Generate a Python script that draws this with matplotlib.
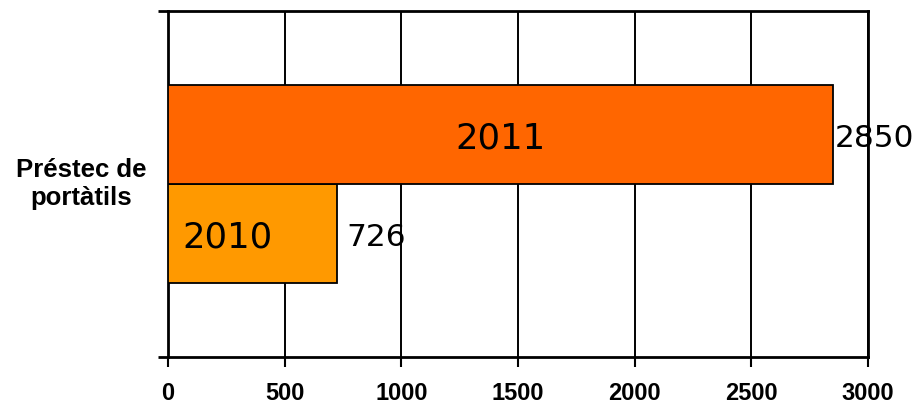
import matplotlib
matplotlib.use("Agg")
from matplotlib import pyplot as plt
import matplotlib.transforms as mtransforms

years = ['2010', '2011']
values = [726, 2850]
colors = ['#FF9900', '#FF6600']
category = 'Préstec de\nportàtils'
xticks = [0, 500, 1000, 1500, 2000, 2500, 3000]

fig = plt.figure(figsize=(9.22, 4.08), dpi=100)
ax = fig.add_axes([168 / 922, 51 / 408, 700 / 922, 346 / 408])

bar_h = 0.286
ypos = [0.5 - bar_h / 2, 0.5 + bar_h / 2]
bars = ax.barh(ypos, values, height=bar_h, color=colors,
               edgecolor='black', linewidth=1.3, zorder=3)

ax.set_xlim(0, 3000)
ax.set_ylim(0, 1)

# gridlines
for x in xticks:
    ax.axvline(x, color='black', linewidth=1.4, zorder=1)

for side in ['left', 'right', 'top', 'bottom']:
    ax.spines[side].set_linewidth(2)
    ax.spines[side].set_color('black')

ax.set_xticks(xticks)
ax.set_xticklabels([str(x) for x in xticks], fontfamily='Liberation Sans',
                   fontweight='bold', fontsize=17)
ax.tick_params(axis='x', direction='out', length=7, width=1.5, pad=11)
ax.set_yticks([0, 1])
ax.set_yticklabels(['', ''])
ax.tick_params(axis='y', direction='out', length=7, width=2)

# category label
trans = mtransforms.blended_transform_factory(fig.transFigure, ax.transData)
ax.text(81 / 922, 0.5, category, transform=trans, ha='center', va='center',
        multialignment='center', fontfamily='Liberation Sans',
        fontweight='bold', fontsize=18.5, linespacing=1.2)

# labels inside bars
inner_pos = [0.35, 0.5]
for y, v, name, f in zip(ypos, values, years, inner_pos):
    ax.text(v * f, y - 0.012, name, ha='center', va='center',
            fontfamily='DejaVu Sans', fontsize=25.5, zorder=4)

# value labels
offs = [38, 7]
for y, v, o in zip(ypos, values, offs):
    ax.text(v + o, y - 0.012, str(v), ha='left', va='center',
            fontfamily='DejaVu Sans', fontsize=22.5, zorder=4)

fig.savefig('out.png', dpi=100)
